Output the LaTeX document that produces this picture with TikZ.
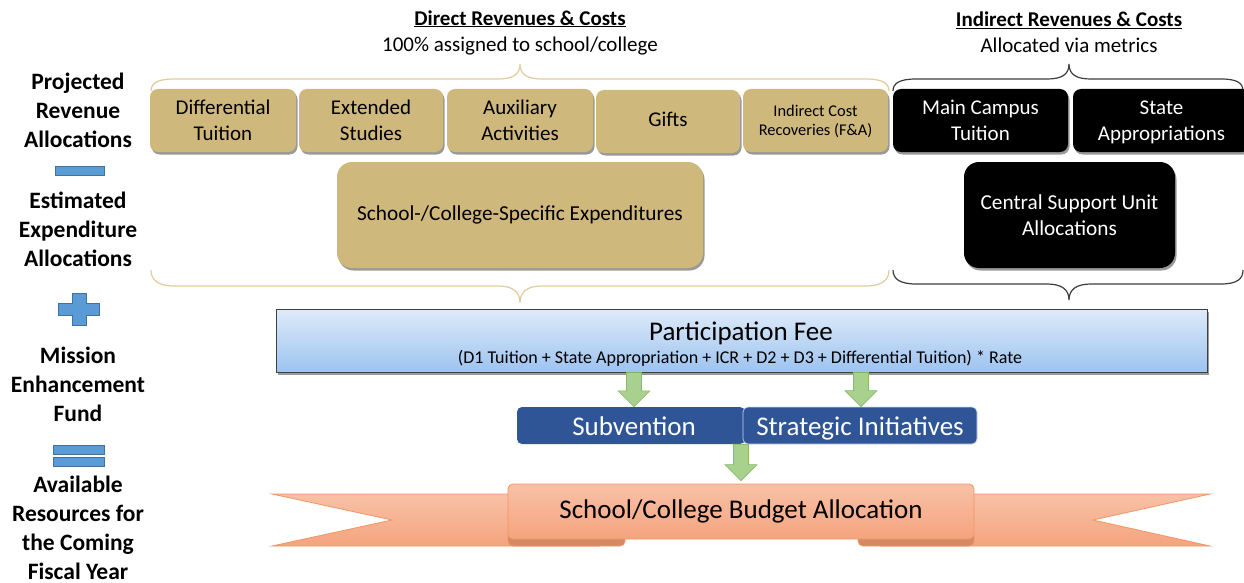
\documentclass[tikz,border=0pt]{standalone}
\usepackage{fontspec}
\setmainfont{Carlito}
\usetikzlibrary{shadows,calc}
\definecolor{gold}{RGB}{207,184,124}
\definecolor{goldline}{RGB}{224,204,154}
\definecolor{darkline}{RGB}{60,60,60}
\definecolor{navy}{RGB}{47,85,151}
\definecolor{garfill}{RGB}{169,209,142}
\definecolor{garline}{RGB}{135,185,105}
\definecolor{opblue}{RGB}{91,155,213}
\definecolor{opline}{RGB}{65,113,156}
\definecolor{pftop}{RGB}{222,235,250}
\definecolor{pfbot}{RGB}{157,195,240}
\definecolor{ribtop}{RGB}{248,193,167}
\definecolor{ribbot}{RGB}{244,164,125}
\definecolor{ribline}{RGB}{240,150,100}
\definecolor{ribfold}{RGB}{214,138,100}
\newcommand\fsz[2]{\fontsize{#1}{#2}\selectfont}
\newcommand\garrow[2]{\path[garr] let \p1=(#1), \p2=(#2) in
  (\x1-7.5pt,\y1) -- (\x1+7.5pt,\y1) -- (\x1+7.5pt,\y2+16pt) -- (\x1+16pt,\y2+16pt)
  -- (\x1,\y2) -- (\x1-16pt,\y2+16pt) -- (\x1-7.5pt,\y2+16pt) -- cycle;}
\tikzset{
  shad/.style={drop shadow={shadow xshift=1.5pt,shadow yshift=-2.5pt,opacity=0.4,fill=black}},
  struts/.style={execute at begin node=\strut, execute at end node=\strut},
  twoline/.style={text depth=0pt},
  revbox/.style={shad, rounded corners=8pt, align=center, inner sep=0pt, minimum height=63pt},
  goldbox/.style={revbox, fill=gold, text=black, font=\fsz{21}{26}},
  blackbox/.style={revbox, fill=black, text=white, font=\fsz{21}{26}},
  bigbox/.style={shad, rounded corners=15pt, align=center, inner sep=0pt, minimum height=106pt, font=\fsz{21.3}{26}},
  leftlab/.style={align=center, font=\bfseries\fsz{23.5}{29}},
  head/.style={align=center, font=\fsz{21}{26}},
  goldbrace/.style={draw=goldline, line width=1.2pt},
  blackbrace/.style={draw=darkline, line width=1.2pt},
  op/.style={fill=opblue, draw=opline, line width=0.6pt},
  garr/.style={fill=garfill, draw=garline, line width=0.6pt},
  navybox/.style={fill=navy, text=white, rounded corners=5pt, inner sep=0pt, minimum height=37pt,
    font=\fsz{27}{30}, text height=21pt, text depth=1pt},
  rib/.style={top color=ribtop, bottom color=ribbot, draw=ribline, line width=0.8pt},
}
\begin{document}
\begin{tikzpicture}[x=1pt,y=-1pt]
\useasboundingbox (0,0) rectangle (1244,583);
\begin{scope}
\clip (0,0) rectangle (1244,583);

% headers
\node[head] (dhead) at (520,32.5) {\textbf{\underline{Direct Revenues \& Costs}}\\100\% assigned to school/college};
\node[head] (ihead) at (1069,32.5) {\textbf{\underline{Indirect Revenues \& Costs}}\\Allocated via metrics};

% top braces
\path[goldbrace] (151,91) .. controls (151,83) and (158,79) .. (174,79) -- (498,79)
  .. controls (512,79) and (520,75) .. (520,64) .. controls (520,75) and (528,79) .. (542,79)
  -- (866,79) .. controls (882,79) and (889,83) .. (889,91);
\path[blackbrace] (893,91) .. controls (893,83) and (900,79) .. (916,79) -- (1047,79)
  .. controls (1061,79) and (1069,75) .. (1069,64) .. controls (1069,75) and (1077,79) .. (1091,79)
  -- (1221,79) .. controls (1237,79) and (1243,83) .. (1243,91);

% left labels and operators
\node[leftlab] (proj) at (78,110.5) {Projected\\Revenue\\Allocations};
\path[op] (55,166) rectangle (104,175);
\node[leftlab] (est) at (78,229) {Estimated\\Expenditure\\Allocations};
\path[op] (72,293) -- (86,293) -- (86,303) -- (99,303) -- (99,315) -- (86,315) -- (86,325)
  -- (72,325) -- (72,315) -- (58,315) -- (58,303) -- (72,303) -- cycle;
\node[leftlab] (mef) at (78,384) {Mission\\Enhancement\\Fund};
\path[op] (53,445) rectangle (104,454);
\path[op] (53,457) rectangle (104,466);
\node[leftlab] (avail) at (78,527.5) {Available\\Resources for\\the Coming\\Fiscal Year};

% revenue boxes
\node[goldbox, twoline, minimum width=146pt] (dt) at (223,120.5) {Differential\\Tuition};
\node[goldbox, twoline, minimum width=144pt] (es) at (371,120.5) {Extended\\Studies};
\node[goldbox, twoline, minimum width=146pt] (aa) at (520,120.5) {Auxiliary\\Activities};
\node[goldbox, struts, minimum width=144pt] (gf) at (668,121.5) {Gifts};
\node[goldbox, twoline, minimum width=145pt, font=\fsz{16.4}{19}] (icr) at (815.5,120.5) {Indirect Cost\\Recoveries (F\&A)};
\node[blackbox, twoline, minimum width=175pt] (mct) at (980.5,120.5) {Main Campus\\Tuition};
\node[blackbox, twoline, minimum width=177pt] (sa) at (1161.5,120.5) {State\\Appropriations};

% expenditure boxes
\node[bigbox, struts, fill=gold, text=black, minimum width=366pt] (exp) at (520,215) {School-/College-Specific Expenditures};
\node[bigbox, twoline, fill=black, text=white, minimum width=211pt] (csu) at (1069.5,215) {Central Support Unit\\Allocations};

% bottom braces
\path[goldbrace] (151,270) .. controls (151,280) and (158,286) .. (174,286) -- (498,286)
  .. controls (512,286) and (520,291) .. (520,303) .. controls (520,291) and (528,286) .. (542,286)
  -- (866,286) .. controls (882,286) and (889,280) .. (889,270);
\path[blackbrace] (893,270) .. controls (893,279) and (900,284) .. (916,284) -- (1047,284)
  .. controls (1061,284) and (1069,289) .. (1069,300) .. controls (1069,289) and (1077,284) .. (1091,284)
  -- (1221,284) .. controls (1237,284) and (1243,279) .. (1243,270);

% participation fee
\node[shad, top color=pftop, bottom color=pfbot, draw=black!75, line width=0.8pt,
  minimum width=931pt, minimum height=63pt, inner sep=0pt] (pf) at (741.5,340.5) {};
\node[font=\fsz{27}{30}] (pft) at (741,333) {Participation Fee};
\node[font=\fsz{18}{20}] (pff) at (740,358) {(D1 Tuition + State Appropriation + ICR + D2 + D3 + Differential Tuition) * Rate};

% subvention / strategic initiatives
\node[navybox, minimum width=228pt] (sub) at (631,425.5) {\hspace*{6pt}Subvention};
\node[navybox, minimum width=234pt, draw=white!75!navy, line width=0.7pt] (si) at (860,425.5) {Strategic Initiatives};

% ribbon
\path[rib] (272,494) -- (600,494) -- (600,546) -- (272,546) -- (392,520) -- cycle;
\path[rib] (1210,494) -- (880,494) -- (880,546) -- (1210,546) -- (1093,520) -- cycle;
\path[fill=ribfold, draw=ribline, line width=0.8pt, rounded corners=5pt] (508,532) rectangle (625,546);
\path[fill=ribfold, draw=ribline, line width=0.8pt, rounded corners=5pt] (858,532) rectangle (974,546);
\node[rib, rounded corners=5pt, minimum width=466pt, minimum height=55pt, inner sep=0pt,
  font=\fsz{27}{30}] (budget) at (741,511.5) {School/College Budget Allocation};

% arrows
\coordinate (ax1) at (634,0);
\coordinate (ax2) at (861,0);
\coordinate (ax3) at (741,0);
\garrow{ax1 |- pf.south}{ax1 |- sub.north}
\garrow{ax2 |- pf.south}{ax2 |- si.north}
\garrow{ax3 |- sub.south}{$(ax3 |- budget.north)+(0,-3)$}
\end{scope}
\end{tikzpicture}
\end{document}
